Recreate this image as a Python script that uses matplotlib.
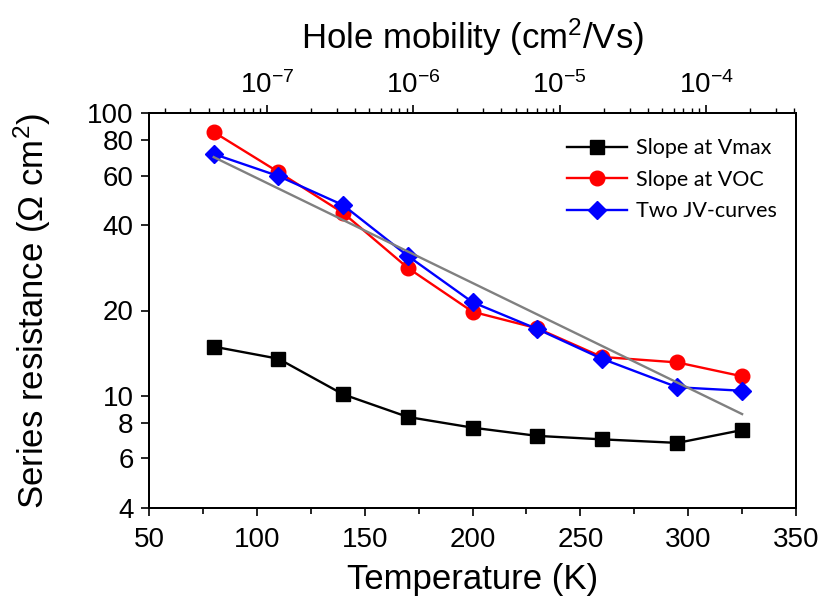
import matplotlib.pyplot as plt
from matplotlib.ticker import NullLocator, FixedLocator, FixedFormatter

plt.rcParams['font.family'] = ['Liberation Sans', 'DejaVu Sans']
plt.rcParams['mathtext.fontset'] = 'custom'
plt.rcParams['mathtext.rm'] = 'Liberation Sans'
plt.rcParams['mathtext.it'] = 'Liberation Sans:italic'

temps = [80, 110, 140, 170, 200, 230, 260, 295, 325]
slope_vmax = [14.9, 13.5, 10.1, 8.4, 7.7, 7.2, 7.0, 6.8, 7.55]
slope_voc = [85.6, 61.8, 44.3, 28.3, 19.8, 17.3, 13.7, 13.1, 11.7]
two_jv = [71.6, 59.8, 47.2, 31.2, 21.4, 17.2, 13.5, 10.7, 10.4]
fit_t = [80, 325]
fit_r = [69.8, 8.6]

y_ticks = [4, 6, 8, 10, 20, 40, 60, 80, 100]

fig = plt.figure(figsize=(8.26, 6), dpi=100)
ax = fig.add_axes([0.1804, 0.1533, 0.7833, 0.6584])

ax.plot(temps, slope_vmax, color='black', marker='s', markersize=9.5, lw=1.7, label='Slope at Vmax')
ax.plot(temps, slope_voc, color='red', marker='o', markersize=10.5, lw=1.7, label='Slope at VOC')
ax.plot(temps, two_jv, color='blue', marker='D', markersize=9.5, lw=1.7, label='Two JV-curves')
ax.plot(fit_t, fit_r, color='gray', lw=1.7)

ax.set_yscale('log')
ax.set_ylim(4, 100)
ax.set_xlim(50, 350)
ax.yaxis.set_major_locator(FixedLocator(y_ticks))
ax.yaxis.set_major_formatter(FixedFormatter([str(v) for v in y_ticks]))
ax.yaxis.set_minor_locator(NullLocator())
ax.set_xticks([50, 100, 150, 200, 250, 300, 350])
ax.set_xticks([75, 125, 175, 225, 275, 325], minor=True)
ax.tick_params(axis='both', which='major', labelsize=20, direction='out', length=6, width=1.2, pad=5)
ax.tick_params(axis='x', which='major', pad=8)
ax.tick_params(axis='x', which='minor', direction='out', length=4, width=1.2)
for s in ax.spines.values():
    s.set_linewidth(1.4)

ax.set_xlabel('Temperature (K)', fontsize=25, labelpad=7)
ax.set_ylabel('Series resistance ($\\Omega$ cm$^2$)', fontsize=25, labelpad=25)

leg = ax.legend(loc='upper right', frameon=False, handlelength=2.8,
                bbox_to_anchor=(1.0, 0.985), labelspacing=0.53, handletextpad=0.4,
                prop={'family': ['Lato', 'DejaVu Sans'], 'size': 15.5})

top = ax.twiny()
top.set_xscale('log')
top.set_xlim(10 ** -7.805, 10 ** -3.386)
top.tick_params(axis='x', which='major', labelsize=20, direction='out', length=6, width=1.2, pad=4)
top.tick_params(axis='x', which='minor', direction='out', length=3.5, width=1.0)
top.set_xlabel('Hole mobility (cm$^2$/Vs)', fontsize=25, labelpad=16)
for s in top.spines.values():
    s.set_linewidth(1.4)

fig.savefig('out.png', dpi=100)
